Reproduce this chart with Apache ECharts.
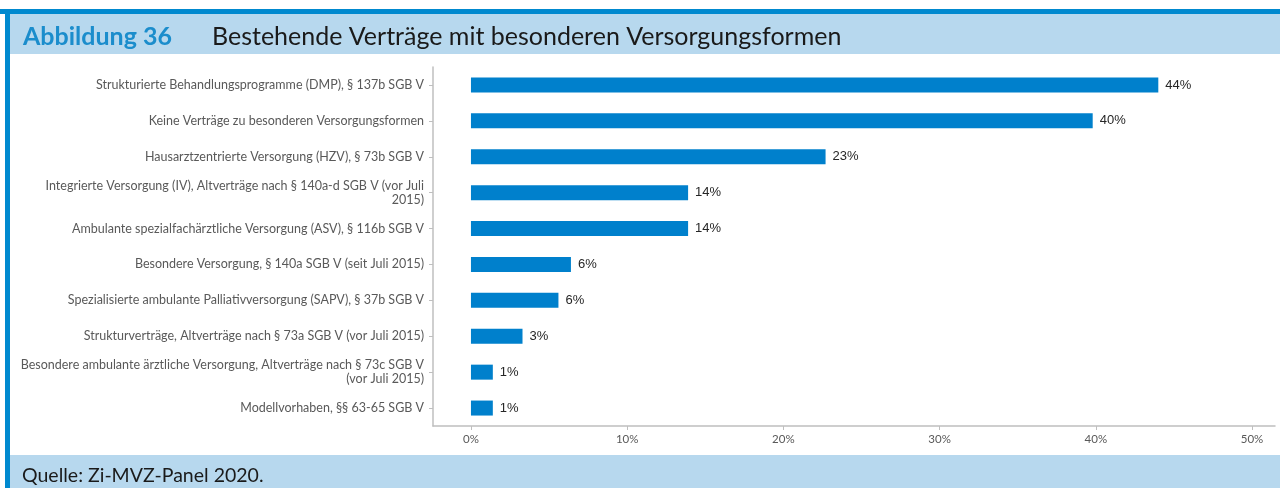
<!DOCTYPE html>
<html>
<head>
<meta charset="utf-8">
<script src="https://cdn.jsdelivr.net/npm/echarts@6/dist/echarts.min.js"></script>
<style>html,body{margin:0;padding:0;background:#fff}#c{width:1280px;height:488px}</style>
</head>
<body>
<div id="c"></div>
<script>
const categories = [
  "Strukturierte Behandlungsprogramme (DMP), § 137b SGB V",
  "Keine Verträge zu besonderen Versorgungsformen",
  "Hausarztzentrierte Versorgung (HZV), § 73b SGB V",
  "Integrierte Versorgung (IV), Altverträge nach § 140a-d SGB V (vor Juli\n2015)",
  "Ambulante spezialfachärztliche Versorgung (ASV), § 116b SGB V",
  "Besondere Versorgung, § 140a SGB V (seit Juli 2015)",
  "Spezialisierte ambulante Palliativversorgung (SAPV), § 37b SGB V",
  "Strukturverträge, Altverträge nach § 73a SGB V (vor Juli 2015)",
  "Besondere ambulante ärztliche Versorgung, Altverträge nach § 73c SGB V\n(vor Juli 2015)",
  "Modellvorhaben, §§ 63-65 SGB V"
];
const values = [44.0, 39.8, 22.7, 13.9, 13.9, 6.4, 5.6, 3.3, 1.4, 1.4];
const tickValues = [0, 10, 20, 30, 40, 50];
const titleLabel = "Abbildung 36";
const titleText = "Bestehende Verträge mit besonderen Versorgungsformen";
const sourceText = "Quelle: Zi-MVZ-Panel 2020.";

const chart = echarts.init(document.getElementById('c'), null, {renderer: 'canvas'});
const font = 'Lato, "Open Sans", sans-serif';
chart.setOption({
  animation: false,
  graphic: [
    {type: 'rect', shape: {x: 0, y: 9, width: 1280, height: 5}, style: {fill: '#0089cf'}},
    {type: 'rect', shape: {x: 10, y: 14, width: 1270, height: 40}, style: {fill: '#b7d8ee'}},
    {type: 'rect', shape: {x: 10, y: 455, width: 1270, height: 33}, style: {fill: '#b7d8ee'}},
    {type: 'rect', shape: {x: 5, y: 9, width: 5, height: 479}, style: {fill: '#0089cf'}}
  ],
  title: [
    {text: titleLabel, left: 18, top: 19, textStyle: {fontFamily: font, fontSize: 25, fontWeight: 'bold', color: '#1b8dcc'}},
    {text: titleText, left: 207, top: 19, textStyle: {fontFamily: font, fontSize: 25, fontWeight: 'normal', color: '#1a1a1a'}},
    {text: sourceText, left: 17, top: 461, textStyle: {fontFamily: font, fontSize: 19.5, fontWeight: 'normal', color: '#1a1a1a'}}
  ],
  grid: {left: 433, right: 5, top: 67, bottom: 62, containLabel: false},
  xAxis: {
    type: 'value', min: -2.43, max: 51.47,
    splitLine: {show: false},
    axisLine: {show: true, lineStyle: {color: '#bfbfbf', width: 1.5}},
    axisTick: {show: true, length: 4, customValues: tickValues, lineStyle: {color: '#bfbfbf'}},
    axisLabel: {customValues: tickValues, formatter: v => v + '%', color: '#595959', fontFamily: font, fontSize: 11.5, margin: 7}
  },
  yAxis: {
    type: 'category', data: categories, inverse: true,
    axisLine: {show: true, onZero: false, lineStyle: {color: '#bfbfbf', width: 1.5}},
    axisTick: {show: true, alignWithLabel: true, length: 4, lineStyle: {color: '#bfbfbf'}},
    axisLabel: {color: '#595959', fontFamily: font, fontSize: 12.5, margin: 9, align: 'right', lineHeight: 14}
  },
  series: [{
    type: 'bar', data: values, barWidth: 15,
    itemStyle: {color: '#0080cc'},
    label: {show: true, position: 'right', distance: 7, formatter: p => Math.round(p.value) + '%',
      color: '#262626', fontFamily: '"Liberation Sans", Arial, sans-serif', fontSize: 13}
  }]
});
</script>
</body>
</html>
